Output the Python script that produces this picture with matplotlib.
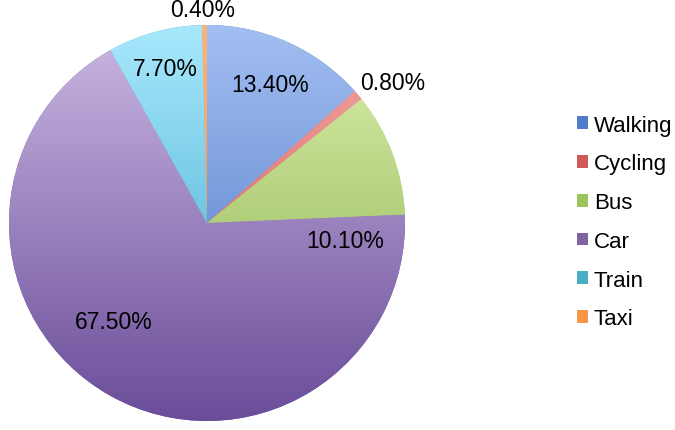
import numpy as np
import matplotlib.pyplot as plt
from matplotlib.colors import LinearSegmentedColormap
from matplotlib.patches import Patch

plt.rcParams['font.family'] = ['Liberation Sans', 'DejaVu Sans']

# Datos
modos = ['Walking', 'Cycling', 'Bus', 'Car', 'Train', 'Taxi']
porcentajes = [13.4, 0.8, 10.1, 67.5, 7.7, 0.4]
etiquetas = ['13.40%', '0.80%', '10.10%', '67.50%', '7.70%', '0.40%']

# colores (claro arriba, oscuro abajo), y color del marcador de la leyenda
colores_claros = ['#a3bff2', '#f7a9a7', '#dcf0ae', '#cbb8e3', '#a8e8fc', '#f9b57a']
colores_oscuros = ['#4470c0', '#c24a47', '#86ad45', '#6a4c99', '#35a3ca', '#f08a3a']
colores_leyenda = ['#4f7bc9', '#d05a58', '#9bc45a', '#8064a2', '#4bacc6', '#f79646']

# posiciones de las etiquetas (coordenadas del pastel, radio 1)
pos_etiquetas = [(0.32, 0.70), (0.94, 0.71), (0.70, -0.09), (-0.47, -0.50), (-0.21, 0.78), (-0.02, 1.08)]


def main():
    fig = plt.figure(figsize=(6.75, 4.31), dpi=100)
    ax = fig.add_axes([9 / 675, 9 / 431, 396 / 675, 396 / 431])

    cuñas, _ = ax.pie(porcentajes, startangle=90, counterclock=False, radius=1,
                      colors=colores_leyenda, wedgeprops=dict(linewidth=0))

    gradiente = np.linspace(0, 1, 256).reshape(-1, 1)
    for cuña, c1, c2 in zip(cuñas, colores_claros, colores_oscuros):
        cmap = LinearSegmentedColormap.from_list('g', [c1, c2])
        im = ax.imshow(gradiente, cmap=cmap, extent=[-1, 1, -1, 1],
                       origin='upper', aspect='auto', zorder=2)
        im.set_clip_path(cuña)

    for texto, (x, y) in zip(etiquetas, pos_etiquetas):
        ax.text(x, y, texto, ha='center', va='center', fontsize=16.5,
                color='black', zorder=5, clip_on=False)

    ax.set_xlim(-1, 1)
    ax.set_ylim(-1, 1)
    ax.set_aspect('equal')
    ax.axis('off')

    manijas = [Patch(facecolor=c, edgecolor='none') for c in colores_leyenda]
    fig.legend(manijas, modos, loc='center left', bbox_to_anchor=(577 / 675, 1 - 223 / 431),
               frameon=False, fontsize=16, handlelength=0.5, handleheight=0.5,
               handletextpad=0.25, labelspacing=0.8, borderaxespad=0, borderpad=0)

    fig.savefig('out.png', dpi=100)


if __name__ == "__main__":
    main()
